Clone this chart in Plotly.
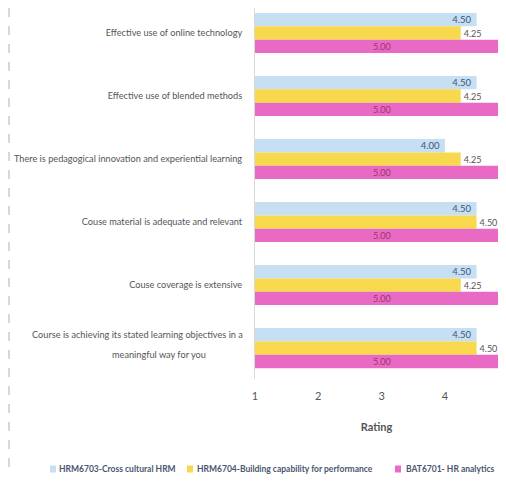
import plotly.graph_objects as go

categories = [
    "Effective use of online technology",
    "Effective use of blended methods",
    "There is pedagogical innovation and experiential learning",
    "Couse material is adequate and relevant",
    "Couse coverage is extensive",
    "Course is achieving its stated learning objectives in a<br>meaningful way for you",
]
series_names = [
    "HRM6703-Cross cultural HRM",
    "HRM6704-Building capability for performance",
    "BAT6701- HR analytics",
]
hrm6703 = [4.50, 4.50, 4.00, 4.50, 4.50, 4.50]
hrm6704 = [4.25, 4.25, 4.25, 4.50, 4.25, 4.50]
bat6701 = [5.00, 5.00, 5.00, 5.00, 5.00, 5.00]
tick_values = [1, 2, 3, 4]
axis_title = "Rating"
x_min = 1

FONT = "Lato, Liberation Sans, sans-serif"
W, H = 490, 468
L, PH = 247, 371
B = H - PH
PW = W - L
PX_PER_UNIT = 63.3
colors = ["#c7dff2", "#f8d94e", "#e86ac4"]

fig = go.Figure()
fig.add_trace(go.Bar(
    y=categories, x=hrm6703, orientation="h", name=series_names[0],
    marker=dict(color=colors[0], line=dict(width=0)),
    texttemplate="%{x:.2f}\u00a0", textposition="inside", insidetextanchor="end",
    textangle=0, constraintext="none",
    textfont=dict(family=FONT, size=9.5, color="#3d5680"),
))
fig.add_trace(go.Bar(
    y=categories, x=hrm6704, orientation="h", name=series_names[1],
    marker=dict(color=colors[1], line=dict(width=0)),
    texttemplate="%{x:.2f}", textposition="outside",
    textangle=0, constraintext="none", cliponaxis=False,
    textfont=dict(family=FONT, size=9, color="#555555"),
))
fig.add_trace(go.Bar(
    y=categories, x=bat6701, orientation="h", name=series_names[2],
    marker=dict(color=colors[2], line=dict(width=0)),
    textposition="none",
))

annotations = []
# pink labels centred on the (clipped) bar from the axis minimum to the value
for cat, v in zip(categories, bat6701):
    annotations.append(dict(
        x=(x_min + v) / 2, y=cat, xref="x", yref="y", yshift=-13,
        text=f"{v:.2f}", showarrow=False,
        font=dict(family=FONT, size=9, color="#9c3570"),
    ))

# wrapped last category label (two lines, as in the reference)
line1, line2 = categories[-1].split("<br>")
annotations.append(dict(x=(237 - L) / PW, y=categories[-1], xref="paper", yref="y",
                        xanchor="right", yshift=14, text=line1, showarrow=False,
                        font=dict(family=FONT, size=9.2, color="#555555")))
annotations.append(dict(x=(200 - L) / PW, y=categories[-1], xref="paper", yref="y",
                        xanchor="right", yshift=-6, text=line2, showarrow=False,
                        font=dict(family=FONT, size=9.2, color="#555555")))

# manual legend (compact, like the reference)
leg_y = (PH - 461) / PH
leg_sq_x = [42, 179, 387]
leg_tx_x = [49, 187, 396]
shapes = []
for name, col, sx, tx in zip(series_names, colors, leg_sq_x, leg_tx_x):
    shapes.append(dict(type="rect", xref="paper", yref="paper",
                       x0=(sx - L) / PW, x1=(sx + 6 - L) / PW,
                       y0=leg_y - 3.5 / PH, y1=leg_y + 3.5 / PH,
                       fillcolor=col, line=dict(width=0)))
    annotations.append(dict(x=(tx - L) / PW, y=leg_y, xref="paper", yref="paper",
                            xanchor="left", yanchor="middle", text="<b>" + name + "</b>",
                            showarrow=False,
                            font=dict(family=FONT, size=8.5, color="#4a5670")))

shapes.append(dict(type="line", xref="paper", yref="paper",
                   x0=(1 - L) / PW, x1=(1 - L) / PW, y0=1.0, y1=-B / PH,
                   line=dict(color="#b0b0b0", width=1, dash="dash")))

ticktext = [c if "<br>" not in c else "" for c in categories]

fig.update_layout(
    template="none",
    width=W, height=H,
    margin=dict(l=L, r=0, t=0, b=B, autoexpand=False),
    paper_bgcolor="white", plot_bgcolor="white",
    barmode="group", bargap=0.365, bargroupgap=0,
    font=dict(family=FONT, size=10, color="#555555"),
    showlegend=False,
    xaxis=dict(
        range=[x_min, x_min + PW / PX_PER_UNIT], tickvals=tick_values,
        automargin=False,
        showgrid=False, zeroline=False, showline=False, ticks="",
        ticklabelstandoff=9,
        tickfont=dict(family=FONT, size=11, color="#555555"),
        title=dict(text="<b>" + axis_title + "</b>", standoff=22,
                   font=dict(family=FONT, size=11, color="#555555")),
    ),
    yaxis=dict(
        range=[5.49, -0.397], showgrid=False, zeroline=False,
        automargin=False, tickmode="array", tickvals=categories, ticktext=ticktext,
        showline=True, linecolor="#d9d9d9", linewidth=1, ticks="",
        ticklabelstandoff=10,
        tickfont=dict(family=FONT, size=9.2, color="#555555"),
    ),
    annotations=annotations,
    shapes=shapes,
)

fig.write_html("out.html")
